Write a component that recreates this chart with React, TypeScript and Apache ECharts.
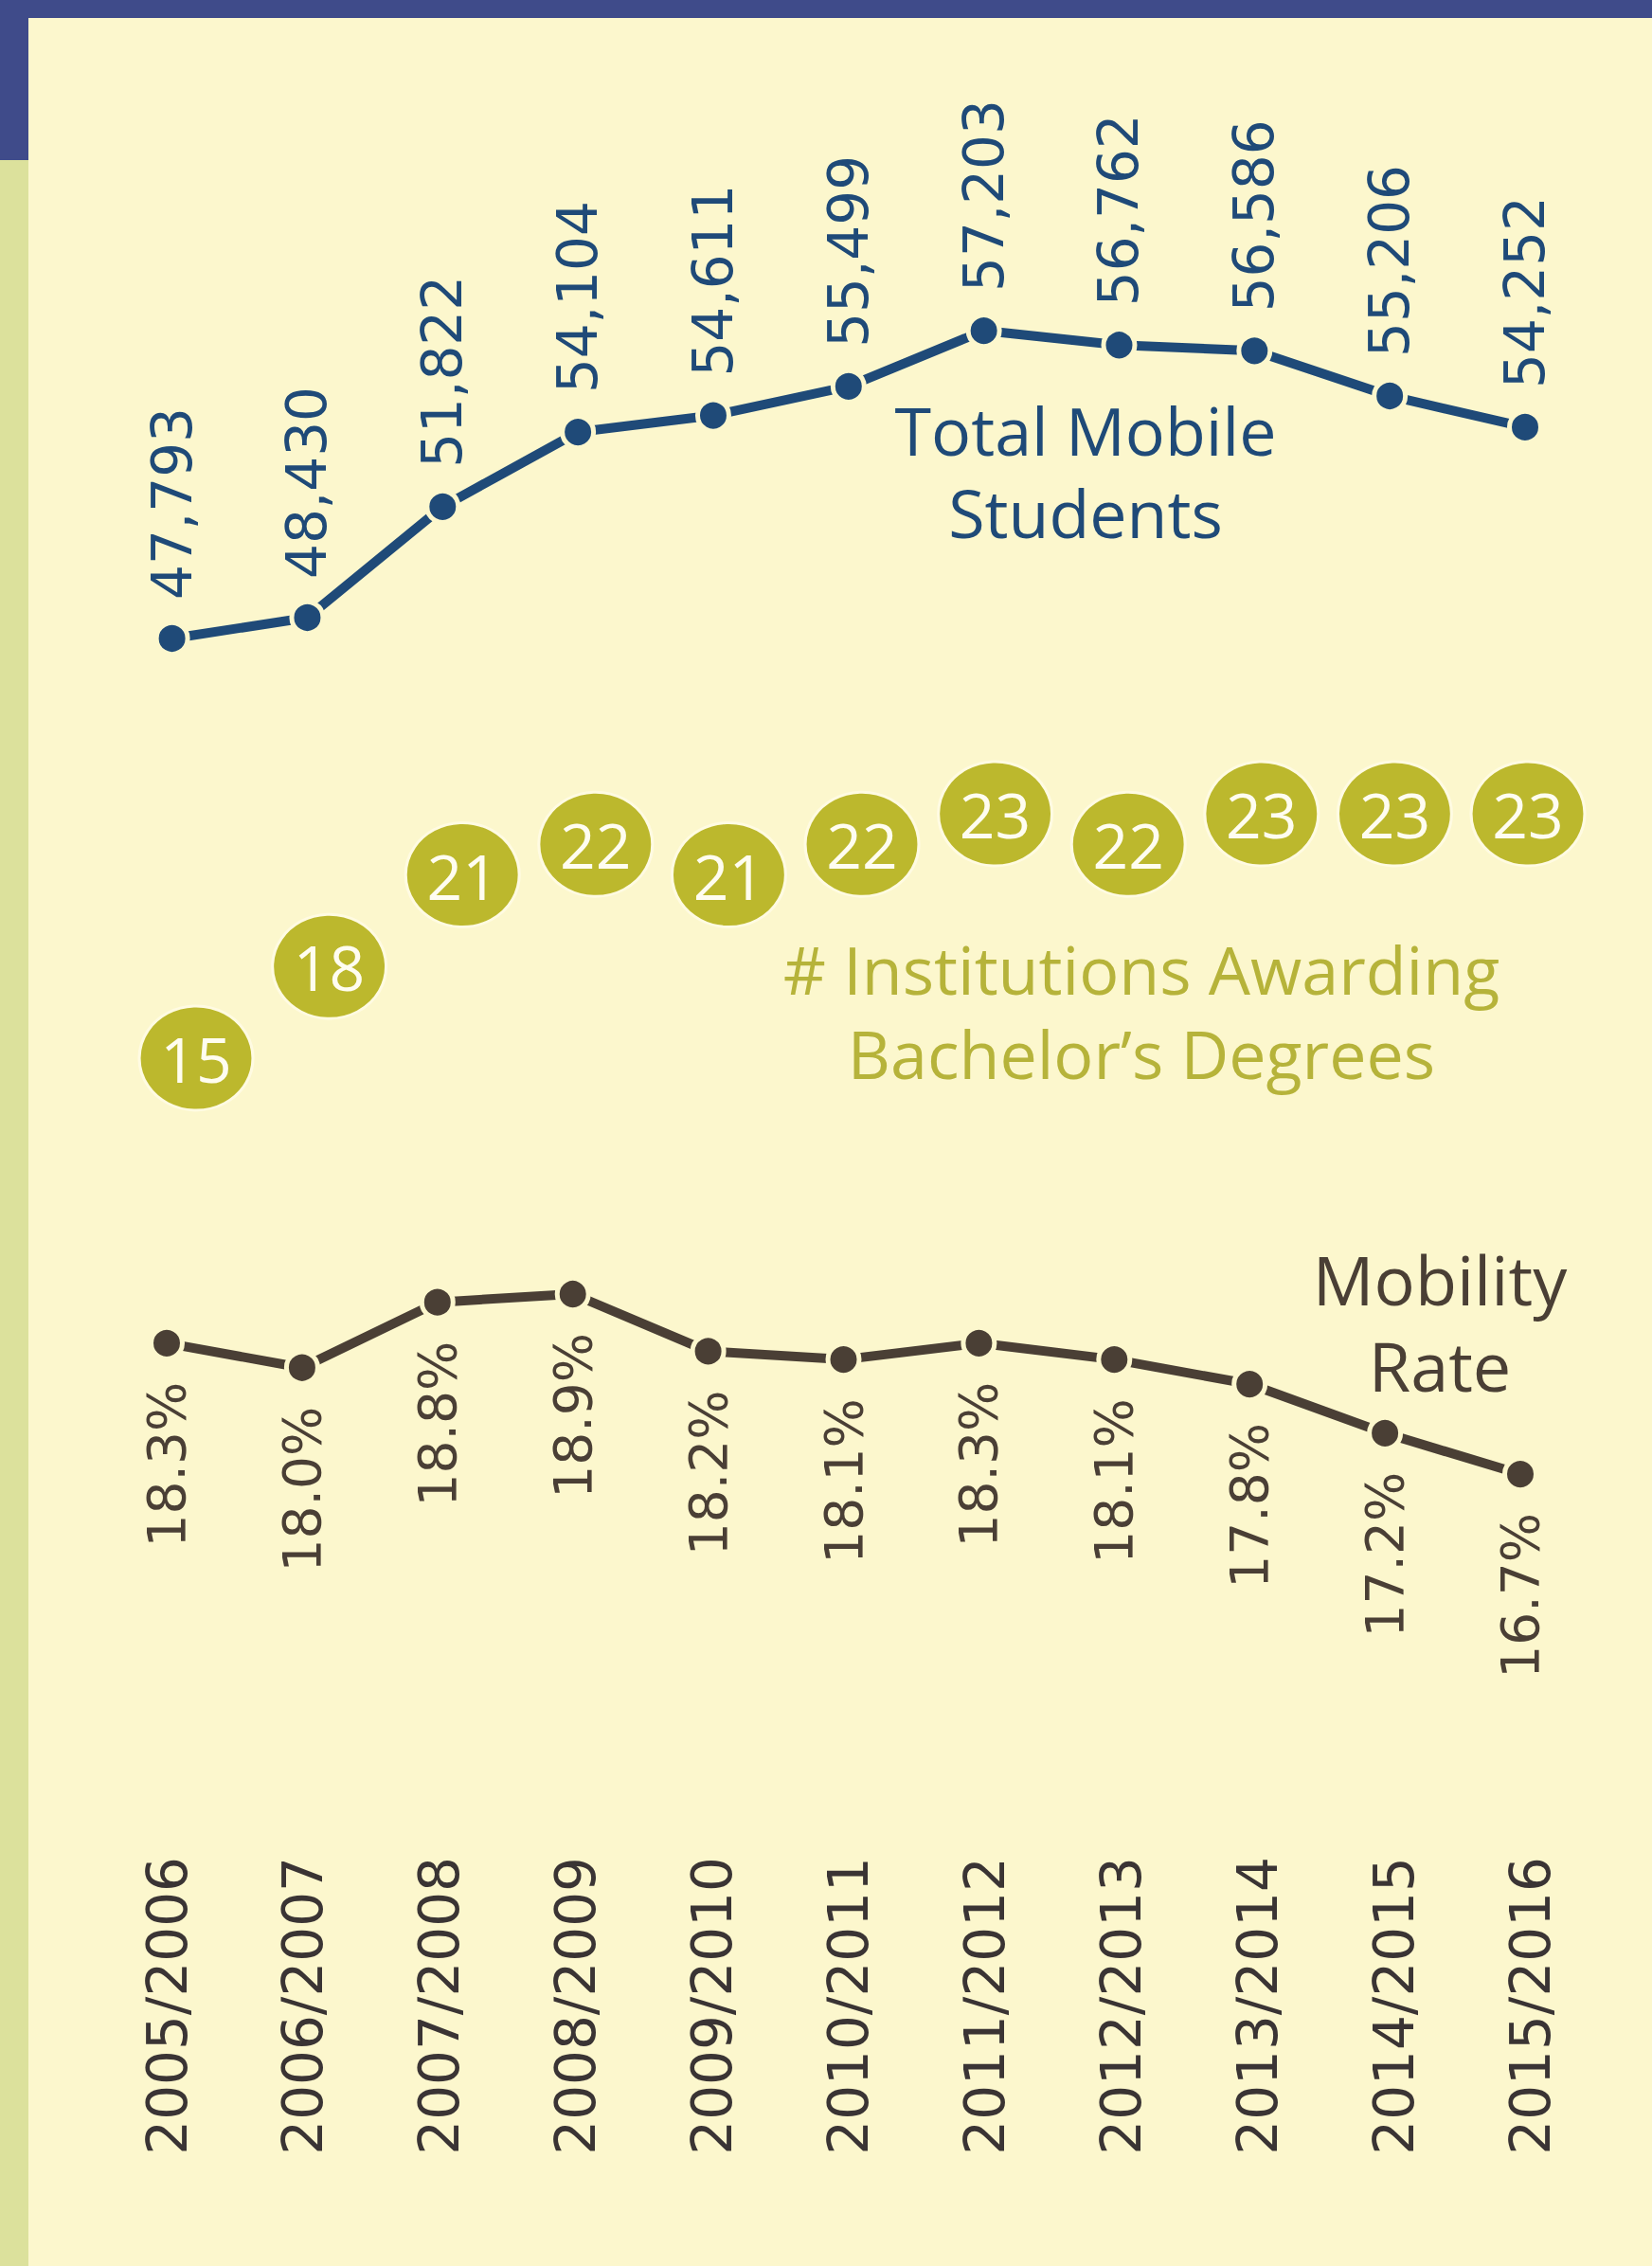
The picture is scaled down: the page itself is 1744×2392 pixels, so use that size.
import React, { useEffect, useRef } from "react";
import * as echarts from "echarts";

const categories = [
  "2005/2006", "2006/2007", "2007/2008", "2008/2009", "2009/2010", "2010/2011",
  "2011/2012", "2012/2013", "2013/2014", "2014/2015", "2015/2016",
];
const totalMobileStudents = [47793, 48430, 51822, 54104, 54611, 55499, 57203, 56762, 56586, 55206, 54252];
const institutions = [15, 18, 21, 22, 21, 22, 23, 22, 23, 23, 23];
const mobilityRate = [18.3, 18.0, 18.8, 18.9, 18.2, 18.1, 18.3, 18.1, 17.8, 17.2, 16.7];

const BG = "#fcf7cd";
const BLUE = "#1f4a78";
const OLIVE = "#bcb82d";
const OLIVE_TEXT = "#b6b33a";
const BROWN = "#4a3f35";
const AXIS_TEXT = "#3a3434";
const LABEL_FONT = "'DejaVu Sans', Verdana, sans-serif";

export default function App() {
  const ref = useRef<HTMLDivElement>(null);

  useEffect(() => {
    if (!ref.current) return;
    const chart = echarts.init(ref.current, undefined, { renderer: "svg" });

    const hiddenX = (gridIndex: number) => ({
      type: "category",
      gridIndex,
      data: categories,
      boundaryGap: false,
      show: false,
    });

    const option: any = {
      animation: false,
      backgroundColor: BG,
      grid: [
        { left: 181.6, right: 134, top: 321.5, height: 414.4 },
        { left: 207, right: 131, top: 826.75, height: 322.5 },
        { left: 176, right: 139, top: 1271, height: 345.5 },
        { left: 176.5, right: 128, top: 1900, height: 50 },
      ],
      xAxis: [
        hiddenX(0),
        hiddenX(1),
        hiddenX(2),
        {
          type: "category",
          gridIndex: 3,
          data: categories,
          boundaryGap: false,
          axisLine: { show: false },
          axisTick: { show: false },
          splitLine: { show: false },
          axisLabel: {
            interval: 0,
            rotate: 90,
            margin: 10,
            fontSize: 58,
            fontFamily: LABEL_FONT,
            color: AXIS_TEXT,
          },
        },
      ],
      yAxis: [
        { type: "value", gridIndex: 0, min: 46000, max: 58000, show: false },
        { type: "value", gridIndex: 1, min: 14, max: 24, show: false },
        { type: "value", gridIndex: 2, min: 16, max: 20, show: false },
        { type: "value", gridIndex: 3, min: 0, max: 1, show: false },
      ],
      series: [
        {
          name: "Total Mobile Students",
          type: "line",
          xAxisIndex: 0,
          yAxisIndex: 0,
          data: totalMobileStudents,
          symbol: "circle",
          symbolSize: 33,
          lineStyle: { color: BLUE, width: 10 },
          itemStyle: { color: BLUE, borderColor: BG, borderWidth: 5 },
          label: {
            show: true,
            position: "top",
            distance: 22,
            rotate: 90,
            align: "left",
            verticalAlign: "middle",
            fontSize: 58,
            fontFamily: LABEL_FONT,
            color: BLUE,
            formatter: (p: any) => Number(p.value).toLocaleString("en-US"),
          },
        },
        {
          name: "# Institutions Awarding Bachelor's Degrees",
          type: "scatter",
          xAxisIndex: 1,
          yAxisIndex: 1,
          data: institutions,
          symbol: "circle",
          symbolSize: [120, 110],
          itemStyle: { color: OLIVE, opacity: 1, borderColor: "#fffbe2", borderWidth: 3 },
          label: {
            show: true,
            position: "inside",
            fontSize: 66,
            fontFamily: "'Open Sans'",
            color: "#fffdf0",
            formatter: (p: any) => String(p.value),
          },
        },
        {
          name: "Mobility Rate",
          type: "line",
          xAxisIndex: 2,
          yAxisIndex: 2,
          data: mobilityRate,
          symbol: "circle",
          symbolSize: 33,
          lineStyle: { color: BROWN, width: 10 },
          itemStyle: { color: BROWN, borderColor: BG, borderWidth: 5 },
          label: {
            show: true,
            position: "bottom",
            distance: 22,
            rotate: 90,
            align: "right",
            verticalAlign: "middle",
            fontSize: 55,
            fontFamily: LABEL_FONT,
            color: BROWN,
            formatter: (p: any) => Number(p.value).toFixed(1) + "%",
          },
        },
      ],
      graphic: [
        { type: "rect", left: 0, top: 0, shape: { x: 0, y: 0, width: 1744, height: 19 }, style: { fill: "#3f4b8a" } },
        { type: "rect", left: 0, top: 0, shape: { x: 0, y: 0, width: 30, height: 169 }, style: { fill: "#3f4b8a" } },
        { type: "rect", left: 0, top: 169, shape: { x: 0, y: 0, width: 30, height: 2223 }, style: { fill: "#dce19c" } },
        {
          type: "text",
          x: 1146,
          y: 497,
          style: {
            text: "Total Mobile\nStudents",
            fill: BLUE,
            font: "70px 'Open Sans'",
            align: "center",
            verticalAlign: "middle",
            lineHeight: 87,
          },
        },
        {
          type: "text",
          x: 1205,
          y: 1067,
          style: {
            text: "# Institutions Awarding\nBachelor\u2019s Degrees",
            fill: OLIVE_TEXT,
            font: "70px 'Open Sans'",
            align: "center",
            verticalAlign: "middle",
            lineHeight: 89,
          },
        },
        {
          type: "text",
          x: 1520,
          y: 1395,
          style: {
            text: "Mobility\nRate",
            fill: BROWN,
            font: "72px 'Open Sans'",
            align: "center",
            verticalAlign: "middle",
            lineHeight: 91,
          },
        },
      ],
    };

    chart.setOption(option);
    return () => chart.dispose();
  }, []);

  return (
    <div
      ref={ref}
      style={{ position: "absolute", left: 0, top: 0, width: 1744, height: 2392 }}
    />
  );
}
